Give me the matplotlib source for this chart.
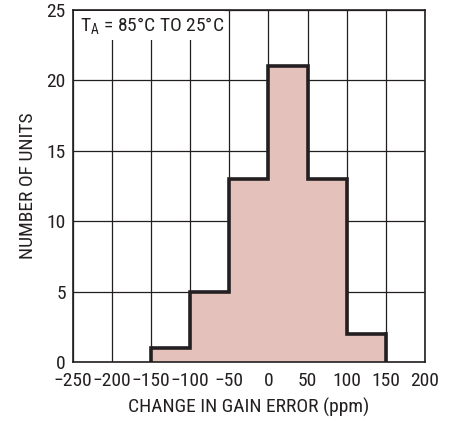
import numpy as np
import matplotlib
matplotlib.use("Agg")
import matplotlib.pyplot as plt
from matplotlib.patches import Rectangle

plt.rcParams['font.family'] = ['Roboto Condensed', 'Archivo Narrow', 'DejaVu Sans']

# histogram data
bin_edges = [-150, -100, -50, 0, 50, 100, 150]
counts = [1, 5, 13, 21, 13, 2]

x_ticks = [-250, -200, -150, -100, -50, 0, 50, 100, 150, 200]
y_ticks = [0, 5, 10, 15, 20, 25]

fig = plt.figure(figsize=(4.55, 4.21), dpi=100)
ax = fig.add_axes([0.160, 0.140, 0.774, 0.836])

ax.set_xlim(-250, 200)
ax.set_ylim(0, 25)
ax.set_xticks(x_ticks)
ax.set_xticklabels([str(t).replace('-', '\u2212') for t in x_ticks])
ax.set_yticks(y_ticks)
ax.tick_params(length=0, labelsize=14, colors='#231f20')
ax.tick_params(axis='x', pad=7)
ax.tick_params(axis='y', pad=5)
ax.grid(True, color='#231f20', linewidth=0.9, zorder=0)
ax.set_axisbelow(True)
for s in ax.spines.values():
    s.set_color('#231f20')
    s.set_linewidth(1.2)

# filled bars
ax.stairs(counts, bin_edges, fill=True, color='#e5c1bc', zorder=2)
# thick outline
ax.stairs(counts, bin_edges, fill=False, baseline=None, color='#231f20',
          linewidth=2.6, zorder=3)
ax.plot([bin_edges[0], bin_edges[0]], [0, counts[0]], color='#231f20', lw=2.6, zorder=3)
ax.plot([bin_edges[-1], bin_edges[-1]], [0, counts[-1]], color='#231f20', lw=2.6, zorder=3)

# label box covering the grid in the top-left corner
ax.add_patch(Rectangle((0.002, 0.915), 0.43, 0.083, transform=ax.transAxes,
                       facecolor='white', edgecolor='none', zorder=4))
ax.text(0.02, 0.955, r'T$_\mathregular{A}$ = 85°C TO 25°C', transform=ax.transAxes,
        fontsize=14, va='center', ha='left', color='#231f20', zorder=5)

ax.set_xlabel('CHANGE IN GAIN ERROR (ppm)', fontsize=14, color='#231f20', labelpad=6)
ax.set_ylabel('NUMBER OF UNITS', fontsize=14, color='#231f20', labelpad=7)

fig.savefig('out.png', dpi=100)
